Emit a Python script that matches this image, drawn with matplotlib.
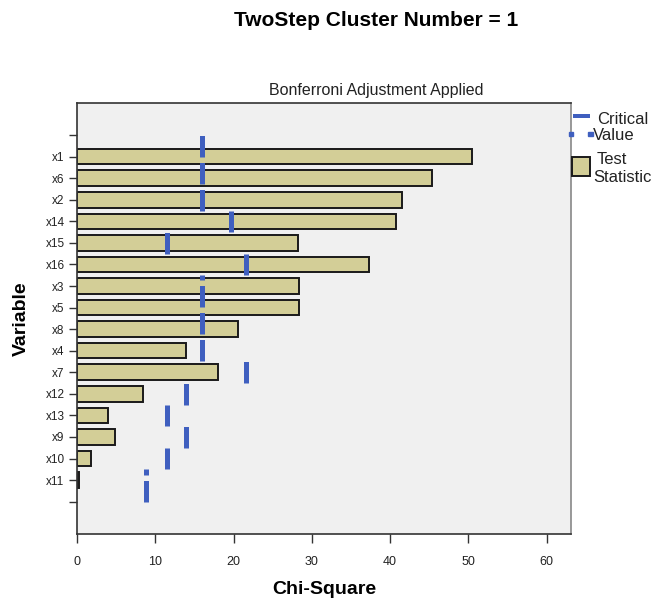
import matplotlib.pyplot as plt
from matplotlib.patches import Rectangle
from matplotlib.lines import Line2D

plt.rcParams['font.family'] = ['Liberation Sans', 'DejaVu Sans']
plt.rcParams['lines.scale_dashes'] = False

# data (top to bottom as shown)
variables = ['x1', 'x6', 'x2', 'x14', 'x15', 'x16', 'x3', 'x5',
             'x8', 'x4', 'x7', 'x12', 'x13', 'x9', 'x10', 'x11']
test_stat = [50.4, 45.3, 41.5, 40.7, 28.2, 37.3, 28.4, 28.4,
             20.6, 13.9, 18.0, 8.4, 4.0, 4.9, 1.8, 0.3]
critical = [15.99, 15.99, 15.99, 19.68, 11.53, 21.55, 15.99, 15.99,
            15.99, 15.99, 21.55, 13.92, 11.53, 13.92, 11.53, 8.78]

W, H = 656, 605
fig = plt.figure(figsize=(W / 100, H / 100), dpi=100)
ax = fig.add_axes([77 / W, 1 - 534 / H, (571 - 77) / W, (534 - 102.7) / H])
ax.set_facecolor('#f0f0f0')

pos = list(range(1, len(variables) + 1))
ax.barh(pos, test_stat, height=0.72, color='#d3ce97', edgecolor='#1a1a1a',
        linewidth=1.4, zorder=2)

# critical value lines: one dashed line per run of equal values,
# drawn bottom -> top so the dash pattern starts at the lower end
blue = '#3f5fbf'
px = 72 / 100
runs = []
start = 0
for i in range(1, len(critical) + 1):
    if i == len(critical) or critical[i] != critical[start]:
        runs.append((start, i - 1))
        start = i
for a, b in runs:
    y_top = pos[a] - 0.5
    y_bot = pos[b] + 0.5
    if a == 0:
        y_top = pos[a] - 1
    if b == len(critical) - 1:
        y_bot = pos[b] + 1
    ax.plot([critical[a], critical[a]], [y_bot, y_top], color=blue,
            linewidth=5 * px, dash_capstyle='butt',
            linestyle=(0, (21.5 * px, 5.5 * px)), zorder=3)

ax.set_xlim(0, 63.1)
ax.set_ylim(len(variables) + 2.5, -1.5)
ax.set_xticks(range(0, 61, 10))
ax.set_yticks(range(0, len(variables) + 2))
ax.set_yticklabels([''] + variables + [''])
ax.tick_params(axis='x', length=6.5, width=1, color='#333333', labelsize=9,
               pad=9, labelcolor='#222222')
ax.tick_params(axis='y', length=6, width=1, color='#333333', labelsize=8.5,
               pad=3, labelcolor='#222222')
for side in ['left', 'bottom', 'top']:
    ax.spines[side].set_color('#333333')
    ax.spines[side].set_linewidth(1.2)
ax.spines['right'].set_color('#888888')
ax.spines['right'].set_linewidth(1.2)

ax.set_xlabel('Chi-Square', fontsize=14, fontweight='bold', labelpad=10)
ax.set_ylabel('Variable', fontsize=14, fontweight='bold', labelpad=11)

fig.text(376 / W, 1 - 21 / H, 'TwoStep Cluster Number = 1', ha='center',
         va='center', fontsize=15, fontweight='bold')
fig.text(376 / W, 1 - 91 / H, 'Bonferroni Adjustment Applied', ha='center',
         va='center', fontsize=11.5, color='#222222')

# legend drawn in pixel space
lg = fig.add_axes([0, 0, 1, 1], zorder=5)
lg.set_xlim(0, W)
lg.set_ylim(H, 0)
lg.axis('off')
lg.add_line(Line2D([575, 588], [115.5, 115.5], color=blue, linewidth=4 * px))
lg.add_patch(Rectangle((569, 131.5), 4, 4, color=blue))
lg.add_patch(Rectangle((588, 131.5), 5, 4, color=blue))
lg.text(597, 119, 'Critical', fontsize=12, va='center', color='#222222')
lg.text(593, 136, 'Value', fontsize=12, va='center', color='#222222')
lg.add_patch(Rectangle((572, 157), 18, 19, facecolor='#d3ce97',
                       edgecolor='#1a1a1a', linewidth=1.4))
lg.text(597, 160, 'Test', fontsize=12, va='center', color='#222222')
lg.text(593, 177, 'Statistic', fontsize=12, va='center', color='#222222')

fig.savefig('out.png', dpi=100)
